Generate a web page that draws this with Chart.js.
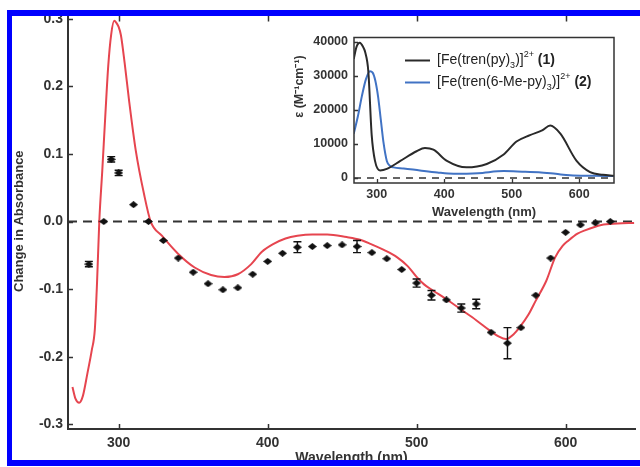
<!DOCTYPE html>
<html lang="en">
<head>
  <meta charset="UTF-8" />
  <title>Change in Absorbance</title>
  <script src="https://cdn.jsdelivr.net/npm/chart.js"></script>
  <style>
    body { margin: 0; background: #fff; overflow: hidden; }
    #wrap { position: relative; width: 640px; height: 467px; }
    canvas { position: absolute; }
    #main { left: 0; top: 0; }
    #inset { left: 280px; top: 24px; }
    .edge { position: absolute; background: #0000ff; z-index: 5; }
  </style>
</head>
<body>
  <div id="wrap">
    <canvas id="main" width="640" height="467"></canvas>
    <canvas id="inset" width="345" height="196"></canvas>
    <div class="edge" style="left:7px; top:10px; width:5px; height:456px;"></div>
    <div class="edge" style="left:7px; top:10px; width:633px; height:6px;"></div>
    <div class="edge" style="left:7px; top:460px; width:633px; height:6px;"></div>
  </div>

  <script>
    const FONT = "'Liberation Sans', Arial, sans-serif";
    const AXIS = "#333";

    // main plot: measured difference (points) and simulated difference (red line)
    const ptWl  = [280, 290, 295, 300, 310, 320, 330, 340, 350, 360, 370, 380, 390, 400, 410, 420, 430, 440, 450, 460,
                   470, 480, 490, 500, 510, 520, 530, 540, 550, 561, 570, 580, 590, 600, 610, 620, 630];
    const ptVal = [-0.063, 0.0, 0.092, 0.072, 0.025, 0.0, -0.028, -0.054, -0.075, -0.092, -0.101, -0.098, -0.078, -0.059,
                   -0.047, -0.038, -0.037, -0.0356, -0.0345, -0.037, -0.046, -0.055, -0.071, -0.091, -0.109, -0.116,
                   -0.128, -0.122, -0.164, -0.180, -0.157, -0.109, -0.054, -0.016, -0.005, -0.002, 0.0];
    const ptErr = [0.004, 0, 0.004, 0.004, 0, 0, 0, 0, 0, 0, 0, 0, 0, 0, 0, 0.008, 0, 0, 0, 0.009,
                   0, 0, 0, 0.006, 0.007, 0, 0.006, 0.007, 0, 0.023, 0, 0, 0, 0, 0, 0, 0];

    const simWl  = [269, 271, 273.5, 276, 279, 282, 284, 285.5, 287, 289, 291, 293, 295, 297, 298.5, 300, 301.5, 304, 307,
                    311.5, 317, 321.5, 329, 340, 351, 362, 371, 380, 389, 396, 404, 412, 420, 430, 440, 453, 462, 469,
                    478, 487, 494, 500, 505, 511, 520, 531, 540, 549, 555, 560, 565, 569, 575, 580, 587, 593, 598, 602,
                    608, 613, 624, 635, 646];
    const simVal = [-0.245, -0.262, -0.268, -0.258, -0.225, -0.19, -0.16, -0.09, 0.0, 0.075, 0.155, 0.23, 0.277, 0.297,
                    0.294, 0.288, 0.276, 0.235, 0.179, 0.105, 0.041, 0.0, -0.021, -0.048, -0.068, -0.079, -0.082,
                    -0.078, -0.063, -0.045, -0.033, -0.025, -0.021, -0.019, -0.019, -0.023, -0.027, -0.033, -0.042,
                    -0.053, -0.066, -0.082, -0.093, -0.102, -0.115, -0.132, -0.146, -0.161, -0.17, -0.174, -0.167,
                    -0.157, -0.138, -0.117, -0.088, -0.053, -0.036, -0.028, -0.018, -0.013, -0.005, -0.003, -0.002];

    const mainXTicks = [300, 400, 500, 600];
    const mainYTicks = [-0.3, -0.2, -0.1, 0.0, 0.1, 0.2, 0.3];

    // inset: extinction spectra
    const c1Wl  = [266, 270, 275, 280, 283, 287.6, 292.6, 297.5, 305, 315, 335, 359, 371.5, 384, 404, 433, 463, 488,
                   507, 527, 545, 557, 572, 596, 616, 635, 651];
    const c1Eps = [35000, 38500, 39800, 38500, 37000, 31400, 12600, 5000, 2200, 2650, 5000, 7850, 8800, 8300, 5000,
                   3100, 4100, 6900, 10700, 12600, 14000, 15400, 13000, 5000, 1700, 900, 600];
    const c2Wl  = [266, 272, 278, 284, 290, 294, 298, 302, 306, 310, 315, 320, 325, 340, 364, 390, 414, 450, 488, 520,
                   540, 565, 586, 620, 651];
    const c2Eps = [13000, 18000, 24000, 29000, 31400, 31000, 28600, 24000, 17300, 10500, 5000, 3500, 3100, 2800, 2200,
                   1600, 1250, 1400, 2000, 1800, 1700, 1200, 750, 600, 550];

    const insetXTicks = [300, 400, 500, 600];
    const insetYTicks = [0, 10000, 20000, 30000, 40000];

    // legend text, pieces: normal, sub, sup, bold
    const legendItems = [
      { color: "#2a2a2a", parts: [["[Fe(tren(py)", "n"], ["3", "sub"], [")]", "n"], ["2+", "sup"], [" (1)", "b"]] },
      { color: "#4173c4", parts: [["[Fe(tren(6-Me-py)", "n"], ["3", "sub"], [")]", "n"], ["2+", "sup"], [" (2)", "b"]] }
    ];

    const pairs = (xs, ys) => xs.map((x, i) => ({ x: x, y: ys[i] }));

    // flattened diamond marker
    const marker = document.createElement("canvas");
    marker.width = 9; marker.height = 7;
    const mc = marker.getContext("2d");
    mc.fillStyle = "#111";
    mc.beginPath();
    mc.moveTo(0, 3.5); mc.lineTo(4.5, 0); mc.lineTo(9, 3.5); mc.lineTo(4.5, 7);
    mc.closePath(); mc.fill();

    // tick marks pointing into the plot
    const innerTicks = {
      id: "innerTicks",
      afterDraw(chart, args, o) {
        const { ctx, chartArea: a, scales: { x, y } } = chart;
        ctx.save();
        ctx.strokeStyle = AXIS;
        ctx.lineWidth = o.width;
        ctx.beginPath();
        x.ticks.forEach(t => {
          const px = Math.round(x.getPixelForValue(t.value)) + 0.5;
          ctx.moveTo(px, a.bottom); ctx.lineTo(px, a.bottom - o.len);
          if (o.top) { ctx.moveTo(px, a.top); ctx.lineTo(px, a.top + o.len + 3); }
        });
        y.ticks.forEach(t => {
          const py = Math.round(y.getPixelForValue(t.value)) + 0.5;
          ctx.moveTo(a.left, py); ctx.lineTo(a.left + o.len, py);
        });
        ctx.stroke();
        if (o.box) {
          ctx.lineWidth = o.box;
          ctx.strokeRect(a.left, a.top, a.right - a.left, a.bottom - a.top);
        }
        ctx.restore();
      }
    };

    const errorBars = {
      id: "errorBars",
      afterDatasetsDraw(chart) {
        const { ctx, scales: { x, y } } = chart;
        ctx.save();
        ctx.strokeStyle = "#111";
        ctx.lineWidth = 1.4;
        ctx.beginPath();
        ptWl.forEach((w, i) => {
          if (!ptErr[i]) return;
          const px = x.getPixelForValue(w);
          const y1 = y.getPixelForValue(ptVal[i] + ptErr[i]);
          const y2 = y.getPixelForValue(ptVal[i] - ptErr[i]);
          ctx.moveTo(px, y1); ctx.lineTo(px, y2);
          ctx.moveTo(px - 4, y1); ctx.lineTo(px + 4, y1);
          ctx.moveTo(px - 4, y2); ctx.lineTo(px + 4, y2);
        });
        ctx.stroke();
        ctx.restore();
      }
    };

    new Chart(document.getElementById("main"), {
      type: "line",
      data: {
        datasets: [
          { data: pairs(ptWl, ptVal), showLine: false, pointStyle: marker, pointRadius: 4 },
          { data: pairs(simWl, simVal), borderColor: "#e6454f", borderWidth: 2, pointRadius: 0,
            cubicInterpolationMode: "monotone" },
          { data: [{ x: 266, y: 0 }, { x: 646.6, y: 0 }], borderColor: "#333", borderWidth: 2,
            borderDash: [9, 6], pointRadius: 0 }
        ]
      },
      plugins: [innerTicks, errorBars],
      options: {
        responsive: false,
        animation: false,
        layout: { padding: { top: 13, right: 0, left: 0, bottom: 0 } },
        plugins: {
          legend: { display: false },
          tooltip: { enabled: false },
          innerTicks: { len: 5, width: 1.5, top: true }
        },
        scales: {
          x: {
            type: "linear", min: 266, max: 646.6,
            afterBuildTicks: s => { s.ticks = mainXTicks.map(v => ({ value: v })); },
            afterFit: s => { s.height = 38; },
            grid: { display: false, drawTicks: false },
            border: { display: true, color: AXIS, width: 2 },
            ticks: { color: AXIS, padding: 6, maxRotation: 0, font: { family: FONT, size: 14, weight: "bold" } },
            title: { display: true, text: "Wavelength (nm)", color: AXIS, padding: { top: -2, bottom: 0 },
                     font: { family: FONT, size: 14, weight: "bold" } }
          },
          y: {
            min: -0.307, max: 0.308,
            afterBuildTicks: s => { s.ticks = mainYTicks.map(v => ({ value: v })); },
            afterFit: s => { s.width = 68; },
            grid: { display: false, drawTicks: false },
            border: { display: true, color: AXIS, width: 2 },
            ticks: { color: AXIS, padding: 5, font: { family: FONT, size: 14, weight: "bold" },
                     callback: v => v.toFixed(1) },
            title: { display: true, text: "Change in Absorbance", color: AXIS, padding: { top: 11.5, bottom: 0 },
                     font: { family: FONT, size: 13, weight: "bold" } }
          }
        }
      }
    });

    // inset legend and rotated y title
    const insetText = {
      id: "insetText",
      afterDraw(chart) {
        const { ctx, chartArea: a } = chart;
        ctx.save();
        legendItems.forEach((item, i) => {
          const ly = a.top + 23 + i * 22;
          ctx.strokeStyle = item.color;
          ctx.lineWidth = 2;
          ctx.beginPath(); ctx.moveTo(a.left + 51, ly); ctx.lineTo(a.left + 76, ly); ctx.stroke();
          let tx = a.left + 83;
          ctx.fillStyle = "#222";
          ctx.textBaseline = "middle";
          item.parts.forEach(([t, kind]) => {
            let dy = 0;
            if (kind === "sub") { ctx.font = "9px " + FONT; dy = 5; }
            else if (kind === "sup") { ctx.font = "9px " + FONT; dy = -6; }
            else if (kind === "b") { ctx.font = "bold 14px " + FONT; }
            else { ctx.font = "14px " + FONT; }
            ctx.fillText(t, tx, ly + dy);
            tx += ctx.measureText(t).width;
          });
        });
        ctx.translate(20, a.top + 49);
        ctx.rotate(-Math.PI / 2);
        ctx.font = "bold 12.5px " + FONT;
        ctx.fillStyle = AXIS;
        ctx.textAlign = "center";
        ctx.textBaseline = "middle";
        ctx.fillText("\u03b5 (M\u207b\u00b9cm\u207b\u00b9)", 0, 0);
        ctx.restore();
      }
    };

    new Chart(document.getElementById("inset"), {
      type: "line",
      data: {
        datasets: [
          { data: pairs(c1Wl, c1Eps), borderColor: "#2a2a2a", borderWidth: 2, pointRadius: 0,
            cubicInterpolationMode: "monotone" },
          { data: pairs(c2Wl, c2Eps), borderColor: "#4173c4", borderWidth: 2, pointRadius: 0,
            cubicInterpolationMode: "monotone" },
          { data: [{ x: 266.4, y: 0 }, { x: 651.4, y: 0 }], borderColor: "#333", borderWidth: 1.5,
            borderDash: [7, 6], pointRadius: 0 }
        ]
      },
      plugins: [innerTicks, insetText],
      options: {
        responsive: false,
        animation: false,
        layout: { padding: { top: 8, right: 11, left: 0, bottom: 0 } },
        plugins: {
          legend: { display: false },
          tooltip: { enabled: false },
          innerTicks: { len: 4, width: 1.3, top: false, box: 1.5 }
        },
        scales: {
          x: {
            type: "linear", min: 266.4, max: 651.4,
            afterBuildTicks: s => { s.ticks = insetXTicks.map(v => ({ value: v })); },
            afterFit: s => { s.height = 37; },
            grid: { display: false, drawTicks: false },
            border: { display: false },
            ticks: { color: AXIS, padding: 4.5, maxRotation: 0, font: { family: FONT, size: 12.5, weight: "bold" } },
            title: { display: true, text: "Wavelength (nm)", color: AXIS, padding: { top: 4.2, bottom: 0 },
                     font: { family: FONT, size: 13, weight: "bold" } }
          },
          y: {
            min: -1500, max: 41330,
            afterBuildTicks: s => { s.ticks = insetYTicks.map(v => ({ value: v })); },
            afterFit: s => { s.width = 74; },
            grid: { display: false, drawTicks: false },
            border: { display: false },
            ticks: { color: AXIS, padding: 6, font: { family: FONT, size: 12.5, weight: "bold" },
                     callback: v => String(v) }
          }
        }
      }
    });
  </script>
</body>
</html>
